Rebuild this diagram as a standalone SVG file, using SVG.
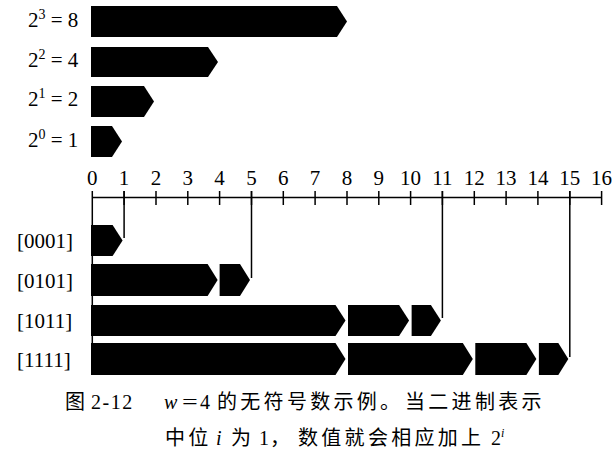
<svg xmlns="http://www.w3.org/2000/svg" width="615" height="451" viewBox="0 0 615 451">
<style>
  .lbl { font-family: "Liberation Serif", "Times New Roman", serif; font-size: 21px; fill: #000; }
  .ax { font-family: "Liberation Serif", "Times New Roman", serif; font-size: 21px; fill: #000; text-anchor: middle; }
  .bar { fill: #000; stroke: none; }
  .ln { stroke: #000; stroke-width: 1.5; fill: none; }
  .cjk { font-family: "Noto Sans CJK SC", sans-serif; font-size: 20px; fill: #000; letter-spacing: 3.3px; }
  .cl { font-family: "Liberation Serif", "Times New Roman", serif; font-size: 20px; fill: #000; }
  .it { font-style: italic; }
</style>
<rect width="615" height="451" fill="#fff"/>

<!-- top bars -->
<g id="pow3">
  <text class="lbl" x="28" y="27">2<tspan dy="-8" font-size="14">3</tspan><tspan dy="8"> = 8</tspan></text>
  <polygon class="bar" points="91,6 337,6 347,21.5 337,37 91,37"/>
</g>
<g id="pow2">
  <text class="lbl" x="28" y="67">2<tspan dy="-8" font-size="14">2</tspan><tspan dy="8"> = 4</tspan></text>
  <polygon class="bar" points="91,47 208,47 218,62 208,77 91,77"/>
</g>
<g id="pow1">
  <text class="lbl" x="28" y="106">2<tspan dy="-8" font-size="14">1</tspan><tspan dy="8"> = 2</tspan></text>
  <polygon class="bar" points="91,86 144,86 154,101.5 144,117 91,117"/>
</g>
<g id="pow0">
  <text class="lbl" x="28" y="147">2<tspan dy="-8" font-size="14">0</tspan><tspan dy="8"> = 1</tspan></text>
  <polygon class="bar" points="91,126 112,126 122,141.5 112,157 91,157"/>
</g>

<!-- axis -->
<g id="axis">
  <line class="ln" x1="92.3" y1="197.5" x2="601.6" y2="197.5"/>
  <g class="ln">
    <line x1="124.1" y1="191" x2="124.1" y2="205"/>
    <line x1="156" y1="191" x2="156" y2="205"/>
    <line x1="187.8" y1="191" x2="187.8" y2="205"/>
    <line x1="219.6" y1="191" x2="219.6" y2="205"/>
    <line x1="251.5" y1="191" x2="251.5" y2="205"/>
    <line x1="283.3" y1="191" x2="283.3" y2="205"/>
    <line x1="315.1" y1="191" x2="315.1" y2="205"/>
    <line x1="347" y1="191" x2="347" y2="205"/>
    <line x1="378.8" y1="191" x2="378.8" y2="205"/>
    <line x1="410.6" y1="191" x2="410.6" y2="205"/>
    <line x1="442.4" y1="191" x2="442.4" y2="205"/>
    <line x1="474.3" y1="191" x2="474.3" y2="205"/>
    <line x1="506.1" y1="191" x2="506.1" y2="205"/>
    <line x1="537.9" y1="191" x2="537.9" y2="205"/>
    <line x1="569.8" y1="191" x2="569.8" y2="205"/>
    <line x1="601.6" y1="191" x2="601.6" y2="205"/>
  </g>
  <text class="ax" x="92.3" y="185">0</text>
  <text class="ax" x="124.1" y="185">1</text>
  <text class="ax" x="156" y="185">2</text>
  <text class="ax" x="187.8" y="185">3</text>
  <text class="ax" x="219.6" y="185">4</text>
  <text class="ax" x="251.5" y="185">5</text>
  <text class="ax" x="283.3" y="185">6</text>
  <text class="ax" x="315.1" y="185">7</text>
  <text class="ax" x="347" y="185">8</text>
  <text class="ax" x="378.8" y="185">9</text>
  <text class="ax" x="410.6" y="185">10</text>
  <text class="ax" x="442.4" y="185">11</text>
  <text class="ax" x="474.3" y="185">12</text>
  <text class="ax" x="506.1" y="185">13</text>
  <text class="ax" x="537.9" y="185">14</text>
  <text class="ax" x="569.8" y="185">15</text>
  <text class="ax" x="601.6" y="185">16</text>
</g>

<!-- connectors -->
<g id="connectors" class="ln">
  <line x1="92.3" y1="191" x2="92.3" y2="375"/>
  <line x1="124.1" y1="191" x2="124.1" y2="238"/>
  <line x1="251.5" y1="191" x2="251.5" y2="278"/>
  <line x1="442.4" y1="191" x2="442.4" y2="318"/>
  <line x1="569.8" y1="191" x2="569.8" y2="357"/>
</g>

<!-- bottom bars -->
<g id="b0001">
  <text class="lbl" x="17" y="248">[0001]</text>
  <polygon class="bar" points="91,225 112.6,225 122.6,240.5 112.6,256 91,256"/>
</g>
<g id="b0101">
  <text class="lbl" x="17" y="288">[0101]</text>
  <polygon class="bar" points="91,264 207.6,264 217.6,280 207.6,296 91,296"/>
  <polygon class="bar" points="219.6,264 240,264 250,280 240,296 219.6,296"/>
</g>
<g id="b1011">
  <text class="lbl" x="17" y="328">[1011]</text>
  <polygon class="bar" points="91,305 335.5,305 345.5,320.5 335.5,336 91,336"/>
  <polygon class="bar" points="348,305 399.1,305 409.1,320.5 399.1,336 348,336"/>
  <polygon class="bar" points="411.6,305 430.9,305 440.9,320.5 430.9,336 411.6,336"/>
</g>
<g id="b1111">
  <text class="lbl" x="17" y="367">[1111]</text>
  <polygon class="bar" points="91,343 335.5,343 345.5,359 335.5,375 91,375"/>
  <polygon class="bar" points="348,343 462.8,343 472.8,359 462.8,375 348,375"/>
  <polygon class="bar" points="475.3,343 526.4,343 536.4,359 526.4,375 475.3,375"/>
  <polygon class="bar" points="538.9,343 558.3,343 568.3,359 558.3,375 538.9,375"/>
</g>

<!-- caption -->
<g id="caption">
  <text class="cjk" x="65" y="409">图</text>
  <text class="cl" x="91" y="409" letter-spacing="1.5">2-12</text>
  <text class="cl it" x="164" y="409">w</text>
  <text class="cl" x="182" y="409" transform="translate(182 0) scale(1.4 1) translate(-182 0)">=</text>
  <text class="cl" x="200" y="409">4</text>
  <text class="cjk" x="217" y="409">的无符号数示例。</text>
  <text class="cjk" x="405" y="409">当二进制表示</text>
  <text class="cjk" x="165" y="445">中位</text>
  <text class="cl it" x="216" y="445">i</text>
  <text class="cjk" x="231" y="445">为</text>
  <text class="cl" x="259" y="445">1</text>
  <text class="cjk" x="270" y="445">，</text>
  <text class="cjk" x="298" y="445">数值就会相应加上</text>
  <text class="cl" x="491" y="445">2<tspan class="it" dy="-8" font-size="12">i</tspan></text>
</g>
</svg>
